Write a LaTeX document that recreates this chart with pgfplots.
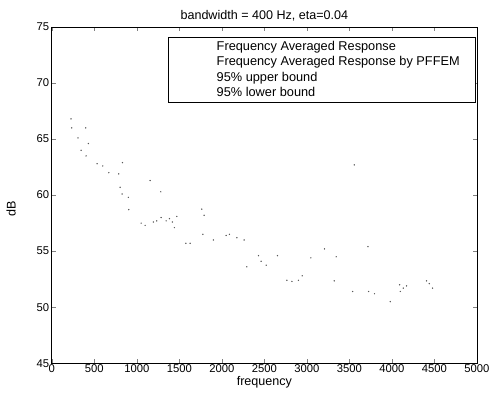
\documentclass[border=0pt]{standalone}
\usepackage{fontspec}
\setmainfont{Liberation Sans}
\usepackage{pgfplots}
\pgfplotsset{compat=1.18}
\begin{document}
\begin{tikzpicture}
\begin{axis}[
  scale only axis,
  width=425bp, height=336bp,
  xmin=0, xmax=5000, ymin=45, ymax=75,
  xtick={0,500,...,5000},
  ytick={45,50,...,75},
  /pgf/number format/assume math mode=true,
  /pgf/number format/1000 sep={},
  scaled x ticks=false,
  tick label style={font=\fontsize{11.3}{13}\selectfont},
  xticklabel style={yshift=2bp},
  yticklabel style={xshift=1bp},
  tick align=inside,
  major tick length=4bp,
  axis line style={black, line width=0.8pt},
  title={bandwidth = 400 Hz, eta=0.04},
  title style={font=\fontsize{12.6}{14}\selectfont, yshift=-4bp},
  xlabel={frequency},
  xlabel style={font=\fontsize{12.6}{14}\selectfont, yshift=3bp},
  ylabel={dB},
  ylabel style={font=\fontsize{12.6}{14}\selectfont, at={(ticklabel cs:0.46)}, yshift=14bp},
  legend style={at={(rel axis cs:0.998,0.97)}, anchor=north east,
    font=\fontsize{12.8}{14}\selectfont, draw=black, line width=0.8pt,
    row sep=0.5pt, inner ysep=2bp},
  legend cell align=left,
]
\addlegendimage{legend image code/.code={\path (0,0) (1.5cm,0);}}
\addlegendentry{Frequency Averaged Response}
\addlegendimage{legend image code/.code={\path (0,0) (1.5cm,0);}}
\addlegendentry{Frequency Averaged Response by PFFEM\rule{11bp}{0pt}}
\addlegendimage{legend image code/.code={\path (0,0) (1.5cm,0);}}
\addlegendentry{95\% upper bound}
\addlegendimage{legend image code/.code={\path (0,0) (1.5cm,0);}}
\addlegendentry{95\% lower bound}
\addplot[only marks, mark=*, mark size=0.45pt, black!65, forget plot] coordinates {
(227,66.8) (235,66.0) (400,66.0) (309,65.1) (431,64.6) (345,64.0) (404,63.5)
(533,62.8) (600,62.6) (831,62.9) (671,62.0) (788,61.9) (1157,61.3) (1282,60.3)
(804,60.7) (827,60.1) (901,59.8) (906,58.7) (1051,57.5) (1098,57.3) (1195,57.6)
(1235,57.7) (1286,58.0) (1345,57.7) (1384,57.9) (1419,57.6) (1442,57.1) (1471,58.1)
(1765,58.75) (1792,58.2) (1577,55.7) (1627,55.7) (1777,56.5) (1901,56.0) (2051,56.4)
(2089,56.5) (2177,56.2) (2262,56.0) (2431,54.6) (2462,54.1) (2521,53.75) (2294,53.6)
(2654,54.6) (2765,52.4) (2824,52.3) (2901,52.4) (2945,52.8) (3047,54.4) (3207,55.2)
(3345,54.5) (3321,52.35) (3557,62.7) (3718,55.4) (3537,51.4) (3725,51.4) (3795,51.2)
(3980,50.5) (4090,52.0) (4172,51.9) (4098,51.4) (4133,51.7) (4407,52.35) (4439,52.1)
(4478,51.7)
};
\coordinate (bl) at (rel axis cs:0,0);
\coordinate (tr) at (rel axis cs:1,1);
\end{axis}
\pgfresetboundingbox
\path ([shift={(-51.7bp,-34bp)}]bl) rectangle ([shift={(21bp,27bp)}]tr);
\end{tikzpicture}
\end{document}
